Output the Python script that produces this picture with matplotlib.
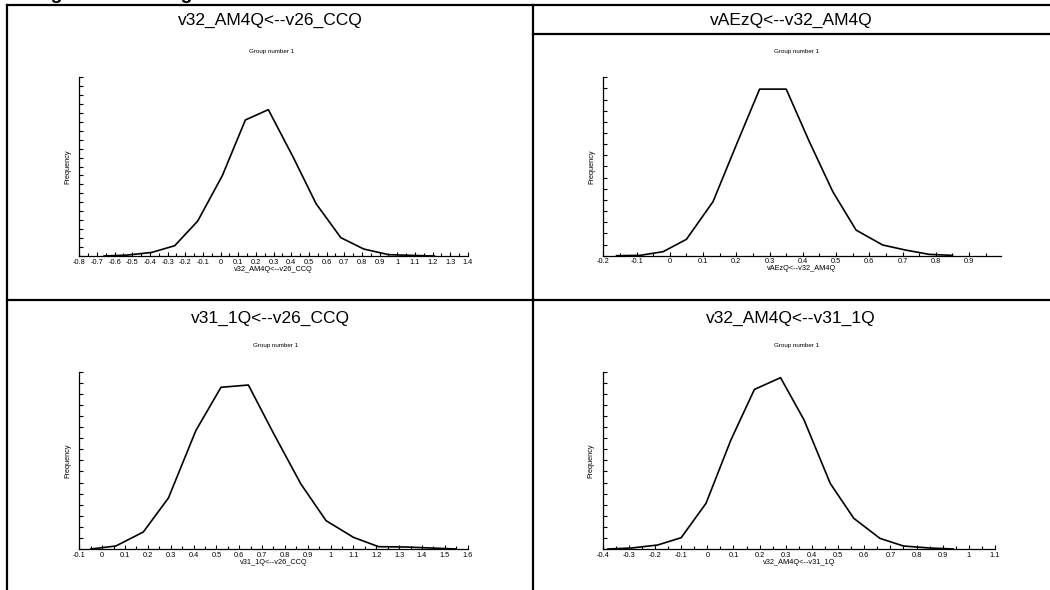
import numpy as np
import matplotlib
matplotlib.use("Agg")
import matplotlib.pyplot as plt
from matplotlib.lines import Line2D
from matplotlib.ticker import MultipleLocator, FixedLocator

plt.rcParams['font.family'] = ['Liberation Sans', 'DejaVu Sans']

# panel titles (also used as x labels)
titles = ["v32_AM4Q<--v26_CCQ", "vAEzQ<--v32_AM4Q",
          "v31_1Q<--v26_CCQ", "v32_AM4Q<--v31_1Q"]

# frequency polygons
p1_x = [-0.66, -0.53, -0.39, -0.26, -0.13, 0.01, 0.14, 0.27, 0.41, 0.54, 0.68, 0.81, 0.95, 1.08, 1.21]
p1_y = [0, 1, 4, 11.5, 39, 90, 152, 163.5, 110.6, 58.5, 20.5, 7.8, 1.5, 0.7, 0]

p2_x = [-0.16, -0.09, -0.02, 0.05, 0.13, 0.20, 0.27, 0.35, 0.42, 0.49, 0.56, 0.64, 0.71, 0.78, 0.85]
p2_y = [0, 0.3, 3.6, 14.7, 48.5, 99.4, 149.4, 149.4, 102, 57.5, 23, 9.6, 5, 1.2, 0.3]

p3_x = [-0.05, 0.06, 0.18, 0.29, 0.41, 0.52, 0.64, 0.75, 0.87, 0.98, 1.10, 1.21, 1.33, 1.44, 1.55]
p3_y = [0, 2.7, 15.3, 46, 106.8, 145.9, 148, 104.4, 58.6, 25.6, 10.5, 2.1, 1.8, 0.9, 0]

p4_x = [-0.38, -0.29, -0.19, -0.10, -0.005, 0.09, 0.18, 0.28, 0.37, 0.47, 0.56, 0.66, 0.75, 0.85, 0.94]
p4_y = [0, 0.9, 3.6, 10.2, 41.2, 98.3, 144, 154.6, 116.4, 59.2, 27.7, 9.6, 2.7, 0.9, 0]

# x tick label ranges per panel
xranges = [(-0.8, 1.4), (-0.2, 0.9), (-0.1, 1.6), (-0.4, 1.1)]
xlims = [(-0.8, 1.4), (-0.2, 0.995), (-0.1, 1.6), (-0.4, 1.1)]
ymaxs = [200, 160, 160, 160]

W, H = 1050, 590
fig = plt.figure(figsize=(W / 100, H / 100), dpi=100)
narrow = ['Liberation Sans Narrow', 'Liberation Sans']


def px(l, t, r, b):
    return [l / W, 1 - b / H, (r - l) / W, (b - t) / H]


def fline(x0, y0, x1, y1):
    fig.add_artist(Line2D([x0 / W, x1 / W], [1 - y0 / H, 1 - y1 / H],
                          transform=fig.transFigure, color='black', lw=1.6))


# table grid
fline(7, 5, 1050, 5)
fline(7, 5, 7, 590)
fline(533, 5, 533, 590)
fline(7, 300, 1050, 300)
fline(533, 34, 1050, 34)

# heading cut off at the top of the page (as in the source)
fig.text(2 / W, 1 + 1 / H, "Histogram of the regression coefficients",
         fontsize=14, fontweight='bold', ha='left', va='baseline')

boxes = [px(79.3, 77, 468, 256), px(603.3, 77.3, 1000.7, 255.7),
         px(79.3, 371.7, 467.7, 549), px(602.7, 371.7, 995, 549)]
title_pos = [(270, 20), (791, 20), (270, 318), (791, 318)]
group_pos = [(272, 51), (797, 51), (276, 345), (797, 345)]
series = [(p1_x, p1_y), (p2_x, p2_y), (p3_x, p3_y), (p4_x, p4_y)]

for i in range(4):
    ax = fig.add_axes(boxes[i])
    xs, ys = series[i]
    ax.plot(xs, ys, color='black', lw=1.2)
    ax.set_xlim(*xlims[i])
    ax.set_ylim(0, ymaxs[i])
    for s in ['top', 'right']:
        ax.spines[s].set_visible(False)
    for s in ['left', 'bottom']:
        ax.spines[s].set_linewidth(0.9)

    lo, hi = xranges[i]
    ticks = np.round(np.arange(lo, hi + 0.001, 0.1), 2) + 0.0
    ax.xaxis.set_major_locator(FixedLocator(ticks))
    ax.set_xticklabels([f"{v:g}" if abs(v) > 1e-9 else "0" for v in ticks],
                       fontsize=5.3, family=narrow)
    ax.xaxis.set_minor_locator(MultipleLocator(0.05))
    ax.yaxis.set_major_locator(MultipleLocator(10))
    ax.set_yticklabels([])
    ax.tick_params(which='both', direction='in', width=0.8)
    ax.tick_params(which='major', length=3, pad=2)
    ax.tick_params(which='minor', length=2)
    ax.set_xlabel(titles[i], fontsize=5.3, labelpad=0, family=narrow)
    ax.set_ylabel("Frequency", fontsize=5.3, labelpad=4, family=narrow)

    tx, ty = title_pos[i]
    fig.text(tx / W, 1 - ty / H, titles[i], fontsize=12.5, ha='center', va='center')
    gx, gy = group_pos[i]
    fig.text(gx / W, 1 - gy / H, "Group number 1", fontsize=4.5, ha='center', va='center',
             family=narrow)

fig.savefig("out.png", dpi=100)
